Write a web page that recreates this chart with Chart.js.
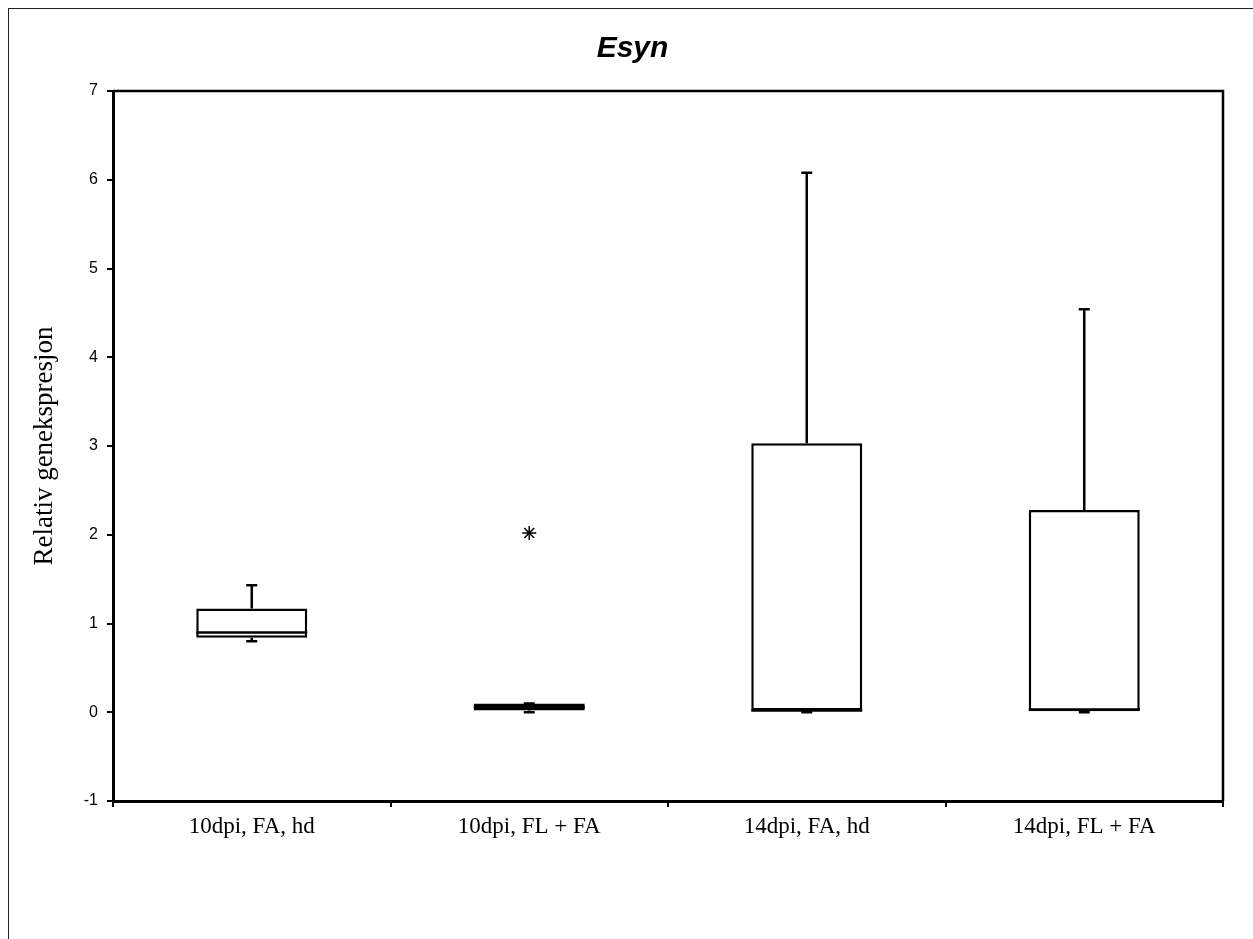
<!DOCTYPE html>
<html>
<head>
<meta charset="utf-8">
<script src="https://cdn.jsdelivr.net/npm/chart.js@4.4.1/dist/chart.umd.min.js"></script>
<style>
  html,body{margin:0;padding:0;background:#fff;overflow:hidden;}
  #frame{position:absolute;left:8px;top:8px;width:1300px;height:1000px;border:1.5px solid #222;box-sizing:border-box;}
  #c{position:absolute;left:0;top:0;}
</style>
</head>
<body>
<div id="frame"></div>
<canvas id="c" width="1253" height="939"></canvas>
<script>
// Esyn boxplot data
const categories  = ['10dpi, FA, hd', '10dpi, FL + FA', '14dpi, FA, hd', '14dpi, FL + FA'];
const whiskerLow  = [0.80, 0.00, 0.00, 0.00];
const q1          = [0.84, 0.02, 0.02, 0.00];
const median      = [0.90, 0.06, 0.02, 0.03];
const q3          = [1.17, 0.10, 3.03, 2.28];
const whiskerHigh = [1.43, 0.10, 6.08, 4.54];
const outliers    = [null, 2.02, null, null];
const yTicks = {min: -1, max: 7, step: 1};

// whiskers + medians, drawn on the library's scales
const boxExtras = {
  id: 'boxExtras',
  afterDatasetsDraw(chart){
    const ctx = chart.ctx, ys = chart.scales.y;
    const bars = chart.getDatasetMeta(0).data;
    ctx.save();
    ctx.strokeStyle = '#000';
    ctx.lineWidth = 2.5;
    bars.forEach((b,i)=>{
      const x = b.x, half = b.width/2, cap = 5.5;
      const yMed = ys.getPixelForValue(median[i]);
      const yQ1 = ys.getPixelForValue(q1[i]), yQ3 = ys.getPixelForValue(q3[i]);
      const yLo = ys.getPixelForValue(whiskerLow[i]), yHi = ys.getPixelForValue(whiskerHigh[i]);
      ctx.beginPath();
      ctx.moveTo(x-half, yMed); ctx.lineTo(x+half, yMed);       // median
      ctx.moveTo(x, yQ3); ctx.lineTo(x, yHi);                   // upper whisker
      ctx.moveTo(x-cap, yHi); ctx.lineTo(x+cap, yHi);
      ctx.moveTo(x, yQ1); ctx.lineTo(x, yLo);                   // lower whisker
      ctx.moveTo(x-cap, yLo); ctx.lineTo(x+cap, yLo);
      ctx.stroke();
    });
    // top / right frame of the plot
    const a = chart.chartArea;
    ctx.lineWidth = 2.5;
    ctx.beginPath();
    ctx.moveTo(a.left, a.top); ctx.lineTo(a.right, a.top); ctx.lineTo(a.right, a.bottom);
    ctx.stroke();
    ctx.restore();
  }
};

new Chart(document.getElementById('c'), {
  type: 'bar',
  data: {
    labels: categories,
    datasets: [
      {
        data: q1.map((v,i)=>[v, q3[i]]),
        backgroundColor: '#fff',
        borderColor: '#000',
        borderWidth: 2.5,
        borderSkipped: false,
        barPercentage: 0.4,
        categoryPercentage: 1.0,
        order: 2
      },
      {
        type: 'line',
        data: outliers,
        showLine: false,
        pointStyle: 'star',
        pointRadius: 7,
        borderColor: '#000',
        borderWidth: 1.5,
        order: 1
      }
    ]
  },
  options: {
    responsive: false,
    animation: false,
    layout: {padding: {top: 31, left: 42, right: 30, bottom: 78}},
    plugins: {
      legend: {display: false},
      tooltip: {enabled: false},
      title: {
        display: true, text: 'Esyn', color: '#000',
        font: {family: 'Liberation Sans', size: 30, weight: 'bold', style: 'italic'},
        padding: {top: 0, bottom: 24}
      }
    },
    scales: {
      x: {
        afterFit: s => { s.height = 60; },
        border: {display: true, color: '#000', width: 3},
        grid: {drawOnChartArea: false, drawTicks: true, tickLength: 6, color: '#000', lineWidth: 2, offset: true},
        ticks: {color: '#000', padding: 6, font: {family: 'Liberation Serif', size: 23}}
      },
      y: {
        min: yTicks.min, max: yTicks.max,
        afterFit: s => { s.width = 71; },
        border: {display: true, color: '#000', width: 3},
        grid: {drawOnChartArea: false, drawTicks: true, tickLength: 6, color: '#000', lineWidth: 2},
        ticks: {stepSize: yTicks.step, color: '#000', padding: 9, font: {family: 'Liberation Sans', size: 16}},
        title: {
          display: true, text: 'Relativ genekspresjon', color: '#000',
          font: {family: 'Liberation Serif', size: 27},
          padding: {top: -13, bottom: 0}
        }
      }
    }
  },
  plugins: [boxExtras]
});
</script>
</body>
</html>
